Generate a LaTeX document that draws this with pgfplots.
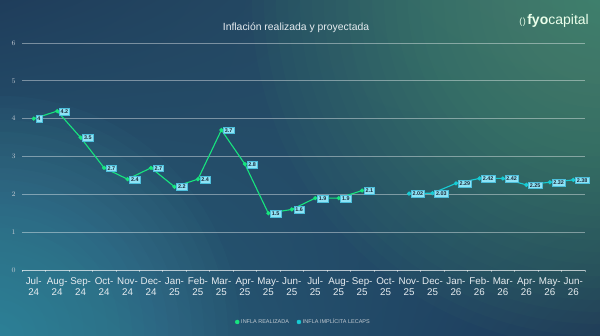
\documentclass[border=0pt]{standalone}
\usepackage{pgfplots}
\pgfplotsset{compat=1.18}
\usetikzlibrary{shadings}
\usepackage{fontspec}
\setmainfont{Liberation Sans}
\definecolor{bgUL}{HTML}{1F3D5B}
\definecolor{bgUR}{HTML}{2A566C}
\definecolor{bgLL}{HTML}{2A6580}
\definecolor{bgLR}{HTML}{1C3858}
\definecolor{glowG}{HTML}{5AA574}
\definecolor{glowT}{HTML}{45A3B5}
\definecolor{realc}{HTML}{17E47E}
\definecolor{lecc}{HTML}{16CCD4}
\definecolor{lblfill}{HTML}{8FE3F5}
\definecolor{lbldraw}{HTML}{4CBFDB}
\definecolor{lbltext}{HTML}{1B2838}
\definecolor{ticktext}{HTML}{E6ECF0}
\definecolor{ytext}{HTML}{C2CAD2}
\begin{document}
\begin{tikzpicture}
\shade[upper left=bgUL, upper right=bgUR, lower left=bgLL, lower right=bgLR] (0pt,0pt) rectangle (600pt,336pt);
\begin{scope}
\clip (0pt,0pt) rectangle (600pt,336pt);
\foreach \r in {12,24,...,348} {\fill[glowG, fill opacity=0.035] (600pt,336pt) circle (\r pt);}
\foreach \r in {12,24,...,240} {\fill[glowT, fill opacity=0.04] (0pt,0pt) circle (\r pt);}
\end{scope}
\begin{axis}[
  at={(22pt,66pt)}, anchor=south west, scale only axis,
  width=563pt, height=227pt,
  xmin=-0.5, xmax=23.5, ymin=0, ymax=6,
  axis x line*=bottom, axis y line*=left,
  y axis line style={draw=none},
  x axis line style={draw=white, draw opacity=0.45, line width=0.8pt},
  ytick={0,1,...,6},
  ymajorgrids,
  grid style={draw=white, draw opacity=0.4, line width=0.9pt},
  ytick style={draw=none},
  yticklabel style={font=\fontsize{7.2}{8}\selectfont, text=ytext, xshift=1.5pt},
  xtick={0,...,23},
  xticklabels={{Jul-\\24},{Aug-\\24},{Sep-\\24},{Oct-\\24},{Nov-\\24},{Dec-\\24},{Jan-\\25},{Feb-\\25},{Mar-\\25},{Apr-\\25},{May-\\25},{Jun-\\25},{Jul-\\25},{Aug-\\25},{Sep-\\25},{Oct-\\25},{Nov-\\25},{Dec-\\25},{Jan-\\26},{Feb-\\26},{Mar-\\26},{Apr-\\26},{May-\\26},{Jun-\\26}},
  xticklabel style={font=\fontsize{9.8}{11}\selectfont, text=ticktext, align=center},
  major x tick style={draw=none},
  minor xtick={-0.5,0.5,...,23.5},
  minor x tick style={draw=white, draw opacity=0.45, line width=0.6pt},
  minor tick length=2pt,
  tick align=outside,
  every node near coord/.append style={anchor=west, xshift=1.8pt, yshift=-0.3pt, fill=lblfill, draw=lbldraw, line width=0.5pt, inner sep=1.5pt, text=lbltext, font=\fontsize{5.4}{5.8}\selectfont\bfseries},
  legend style={at={(0.5,-0.229)}, anchor=center, draw=none, fill=none, legend columns=2, font=\fontsize{5.5}{6}\selectfont, text=ytext, /tikz/every even column/.append style={column sep=6pt}},
  legend cell align=left,
  clip=false,
]
\addlegendimage{only marks, mark=*, mark size=2pt, color=realc}
\addlegendentry{INFLA REALIZADA}
\addlegendimage{only marks, mark=*, mark size=2pt, color=lecc}
\addlegendentry{INFLA IMPLÍCITA LECAPS}
\addplot[realc, line width=1.1pt, mark=*, mark size=1.5pt, nodes near coords, point meta=explicit symbolic, forget plot] coordinates {
(0,4)[4] (1,4.2)[4.2] (2,3.5)[3.5] (3,2.7)[2.7] (4,2.4)[2.4] (5,2.7)[2.7] (6,2.2)[2.2] (7,2.4)[2.4] (8,3.7)[3.7] (9,2.8)[2.8] (10,1.5)[1.5] (11,1.6)[1.6] (12,1.9)[1.9] (13,1.9)[1.9] (14,2.1)[2.1]
};
\addplot[lecc, line width=1.1pt, mark=*, mark size=1.5pt, nodes near coords, point meta=explicit symbolic, forget plot] coordinates {
(16,2.02)[2.02] (17,2.03)[2.03] (18,2.29)[2.29] (19,2.42)[2.42] (20,2.42)[2.42] (21,2.25)[2.25] (22,2.32)[2.32] (23,2.38)[2.38]
};
\end{axis}
\node[text=ticktext, font=\fontsize{10.4}{12}\selectfont] at (296pt,308pt) {Inflación realizada y proyectada};
\node[anchor=base east, text=white!92!green, inner sep=0pt] at (589pt,311pt) {{\fontsize{9}{9}\selectfont (\kern0.5pt)}\kern1.5pt{\fontsize{14}{14}\selectfont\textbf{fyo}capital}};
\pgfresetboundingbox
\useasboundingbox (0pt,0pt) rectangle (600pt,336pt);
\end{tikzpicture}
\end{document}
